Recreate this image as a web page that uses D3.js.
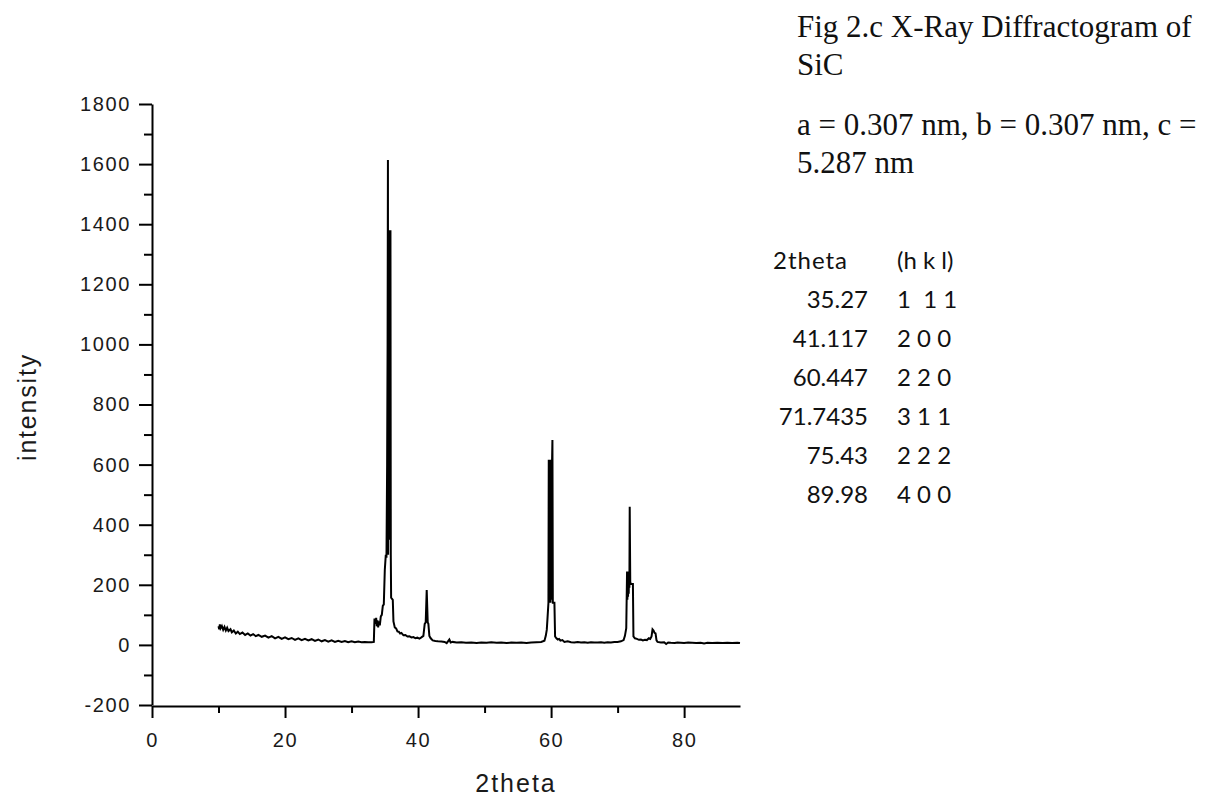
<!DOCTYPE html>
<html>
<head>
<meta charset="utf-8">
<script src="https://cdn.jsdelivr.net/npm/d3@7"></script>
<style>
  body { margin: 0; background: #fff; }
  svg { display: block; }
  .tick text { font-family: "Liberation Sans", Arial, sans-serif; }
</style>
</head>
<body>
<svg id="chart" width="1210" height="798"></svg>
<script>
// XRD pattern (2theta in degrees, intensity in counts)
var twoTheta = [
  10.0, 10.1, 10.2, 10.3, 10.5, 10.7, 10.9, 11.1, 11.3, 11.5, 11.8, 12.0, 12.3, 12.6, 12.9, 13.2, 13.6, 14.0,
  14.4, 14.8, 15.2, 15.6, 16.0, 16.5, 17.0, 17.5, 18.0, 18.5, 19.0, 19.5, 20.0, 20.5, 21.0, 21.5, 22.0, 22.5,
  23.0, 23.5, 24.0, 24.5, 25.0, 25.5, 26.0, 26.5, 27.0, 27.5, 28.0, 28.5, 29.0, 29.5, 30.0, 30.5, 31.0, 31.5,
  32.0, 32.5, 33.0, 33.35,
  33.45, 33.6, 33.7, 33.8, 33.9, 34.0, 34.1, 34.25, 34.4, 34.55, 34.7, 34.85, 35.0, 35.15, 35.25, 35.35, 35.42,
  35.47, 35.5, 35.55, 35.6, 35.65, 35.7, 35.75, 35.8, 35.85, 35.9, 35.95, 36.2, 36.3, 36.5, 36.7, 36.9, 37.1,
  37.3, 37.5, 37.8, 38.1, 38.4, 38.7, 39.0, 39.3, 39.6, 39.9, 40.2, 40.5, 40.8, 41.0, 41.15, 41.3, 41.45, 41.55,
  41.7, 41.9, 42.2, 42.6, 43.0, 43.5, 44.0, 44.3, 44.5, 44.7, 44.9, 45.2, 45.8, 46.5, 47.2, 48.0, 48.8, 49.5,
  50.3, 51.0, 51.8, 52.5, 53.3, 54.0, 54.8, 55.5, 56.3, 57.0, 57.8, 58.5, 59.0, 59.2, 59.35,
  59.45, 59.6, 59.65, 59.7, 59.75, 59.8, 59.85, 59.9, 59.95, 60.0, 60.05, 60.1, 60.15, 60.2, 60.26, 60.35, 60.5, 60.6,
  60.8, 61.0, 61.2, 61.4, 61.7, 62.0, 62.5, 63.0, 63.5, 64.0, 64.5, 65.0, 65.5, 66.0, 66.5, 67.0, 67.5, 68.0,
  68.5, 69.0, 69.5, 70.0, 70.5, 70.9, 71.1, 71.3,
  71.42, 71.47, 71.52, 71.57, 71.62, 71.67, 71.72, 71.77, 71.82, 71.9, 71.97, 72.1, 72.3, 72.38,
  72.6, 72.9, 73.2, 73.5, 73.8, 74.1, 74.4, 74.7, 74.9, 75.1, 75.25, 75.4, 75.55, 75.7, 75.85, 76.0,
  76.5, 77.0, 77.3, 77.6, 78.0, 78.6, 79.0, 79.5, 80.0, 80.6, 81.2, 81.8, 82.5, 83.0, 83.5, 84.2, 85.0, 85.8,
  86.5, 87.2, 88.0, 88.4
];
var intensity = [
  62, 52, 68, 55, 63, 50, 60, 48, 57, 46, 52, 42, 48, 38, 44, 36, 41, 33,
  38, 31, 36, 29, 33, 27, 31, 24, 29, 22, 27, 20, 25, 19, 23, 17, 22, 16,
  20, 15, 19, 13, 18, 12, 16, 11, 15, 10, 14, 10, 13, 9, 12, 9, 11, 9,
  10, 9, 9, 10,
  88, 70, 90, 62, 82, 58, 78, 65, 95, 100, 130, 135, 250, 300, 290, 600, 1000,
  1614, 300, 1380, 350, 1380, 420, 1380, 500, 1380, 300, 157, 150, 78, 58, 55, 45, 44,
  38, 40, 32, 33, 28, 29, 25, 26, 22, 24, 21, 25, 30, 70, 75, 183, 75, 70,
  30, 22, 15, 13, 12, 11, 10, 6, 12, 18, 8, 10, 8, 9, 7, 8, 6, 8,
  7, 9, 7, 8, 6, 8, 7, 8, 6, 8, 9, 10, 14, 30, 50,
  85, 140, 616, 140, 616, 150, 616, 140, 616, 160, 616, 150, 616, 682, 140, 140, 140, 28,
  22, 18, 20, 14, 16, 10, 12, 9, 8, 10, 8, 9, 7, 9, 8, 8, 9, 7,
  9, 8, 10, 10, 12, 16, 30, 56,
  244, 150, 244, 160, 244, 170, 244, 190, 460, 210, 203, 203, 203, 28,
  22, 20, 17, 18, 15, 17, 16, 22, 20, 28, 52, 48, 40, 38, 15, 10,
  8, 9, 3, 8, 7, 6, 8, 7, 6, 8, 7, 6, 7, 5, 7, 6, 7, 6,
  7, 6, 7, 6
];

var xMajor = [0, 20, 40, 60, 80];
var xMinor = [10, 30, 50, 70];
var yMajor = [-200, 0, 200, 400, 600, 800, 1000, 1200, 1400, 1600, 1800];
var yMinor = [-100, 100, 300, 500, 700, 900, 1100, 1300, 1500, 1700];

var titleLines = ["Fig 2.c X-Ray Diffractogram of", "SiC"];
var cellLines = ["a = 0.307 nm, b = 0.307 nm, c =", "5.287 nm"];
var peakAngles = ["35.27", "41.117", "60.447", "71.7435", "75.43", "89.98"];
var peakHkl = ["1  1 1", "2 0 0", "2 2 0", "3 1 1", "2 2 2", "4 0 0"];

var svg = d3.select("#chart");

var x = d3.scaleLinear().domain([0, 88.4]).range([152, 740]);
var y = d3.scaleLinear().domain([-200, 1800]).range([705, 104]);

// axes
svg.append("g").attr("transform", "translate(0,706)")
  .call(d3.axisBottom(x).tickValues(xMajor).tickSize(12).tickSizeOuter(0).tickPadding(15).tickFormat(String));
svg.append("g").attr("transform", "translate(0,706)")
  .call(d3.axisBottom(x).tickValues(xMinor).tickSize(7).tickFormat(""))
  .select(".domain").remove();

svg.append("g").attr("transform", "translate(152,0)")
  .call(d3.axisLeft(y).tickValues(yMajor).tickSize(13).tickSizeOuter(0).tickPadding(8).tickFormat(String));
svg.append("g").attr("transform", "translate(152,0)")
  .call(d3.axisLeft(y).tickValues(yMinor).tickSize(8).tickFormat(""))
  .select(".domain").remove();

svg.selectAll(".domain, .tick line").attr("stroke", "#000").attr("stroke-width", 2);
svg.selectAll(".tick text")
  .attr("fill", "#1a1a1a")
  .style("font-size", "20px")
  .style("letter-spacing", "1.6px");

// axis titles
svg.append("text")
  .attr("transform", "translate(36,407) rotate(-90)")
  .attr("text-anchor", "middle")
  .style("font-family", "Liberation Sans, Arial, sans-serif")
  .style("font-size", "25px")
  .style("letter-spacing", "1.8px")
  .attr("fill", "#1a1a1a")
  .text("intensity");

svg.append("text")
  .attr("x", 516).attr("y", 792)
  .attr("text-anchor", "middle")
  .style("font-family", "Liberation Sans, Arial, sans-serif")
  .style("font-size", "25px")
  .style("letter-spacing", "2px")
  .attr("fill", "#1a1a1a")
  .text("2theta");

// pattern
var line = d3.line()
  .x(function (d, i) { return x(twoTheta[i]); })
  .y(function (d) { return y(d); });

svg.append("path")
  .datum(intensity)
  .attr("d", line)
  .attr("fill", "none")
  .attr("stroke", "#000")
  .attr("stroke-width", 2)
  .attr("stroke-linejoin", "miter");

// caption text on the right
var serif = "Liberation Serif, Times New Roman, serif";
svg.selectAll("text.title")
  .data(titleLines).enter().append("text")
  .attr("class", "title")
  .attr("x", 797).attr("y", function (d, i) { return 37 + i * 38; })
  .style("font-family", serif).style("font-size", "31px").attr("fill", "#111")
  .text(function (d) { return d; });

svg.selectAll("text.cell")
  .data(cellLines).enter().append("text")
  .attr("class", "cell")
  .attr("x", 797).attr("y", function (d, i) { return 135 + i * 38; })
  .style("font-family", serif).style("font-size", "31px").attr("fill", "#111")
  .text(function (d) { return d; });

// peak table
var sans = "Lato, Carlito, Calibri, sans-serif";
svg.append("text").attr("x", 773).attr("y", 269)
  .style("font-family", sans).style("font-size", "24px").style("letter-spacing", "1px").attr("fill", "#111").text("2theta");
svg.append("text").attr("x", 897).attr("y", 269)
  .style("font-family", sans).style("font-size", "24px").style("white-space", "pre").attr("fill", "#111").text("(h k l)");

svg.selectAll("text.ang")
  .data(peakAngles).enter().append("text")
  .attr("class", "ang")
  .attr("x", 868).attr("y", function (d, i) { return 308 + i * 39; })
  .attr("text-anchor", "end")
  .style("font-family", sans).style("font-size", "24px").attr("fill", "#111")
  .text(function (d) { return d; });

svg.selectAll("text.hkl")
  .data(peakHkl).enter().append("text")
  .attr("class", "hkl")
  .attr("x", 897).attr("y", function (d, i) { return 308 + i * 39; })
  .style("font-family", sans).style("font-size", "24px").style("white-space", "pre").attr("fill", "#111")
  .text(function (d) { return d; });
</script>
</body>
</html>
